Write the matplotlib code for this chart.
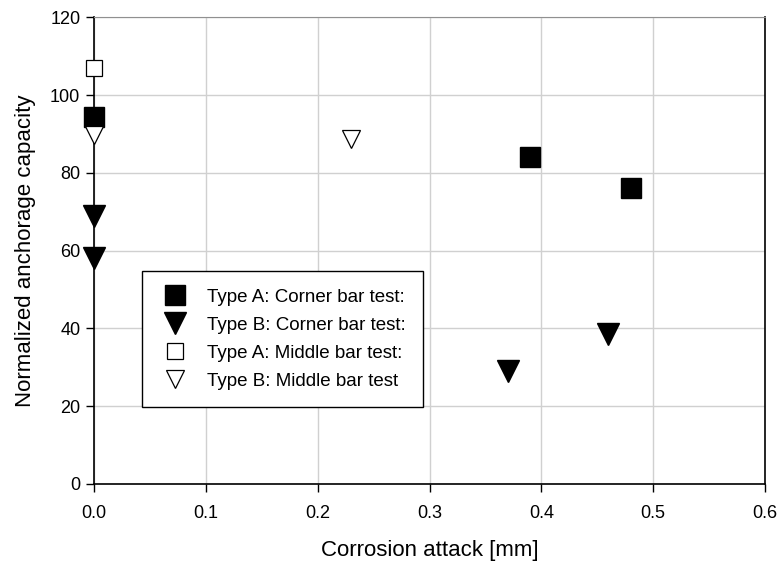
import matplotlib.pyplot as plt

plt.rcParams['font.family'] = ['Liberation Sans', 'DejaVu Sans']

# data
a_corner_x = [0.0, 0.39, 0.48]
a_corner_y = [94.5, 84.0, 76.0]
b_corner_x = [0.0, 0.0, 0.37, 0.46]
b_corner_y = [69.0, 58.0, 29.0, 38.5]
a_middle_x = [0.0]
a_middle_y = [107.0]
b_middle_x = [0.0, 0.23]
b_middle_y = [89.7, 88.8]

xticks = [0.0, 0.1, 0.2, 0.3, 0.4, 0.5, 0.6]
yticks = [0, 20, 40, 60, 80, 100, 120]

fig = plt.figure(figsize=(7.79, 5.62), dpi=100)
ax = fig.add_axes([0.121, 0.139, 0.861, 0.830])

ax.plot(a_corner_x, a_corner_y, 's', color='black', markersize=14.5,
        label='Type A: Corner bar test:', clip_on=False, zorder=5)
ax.plot(b_corner_x, b_corner_y, 'v', color='black', markersize=16,
        label='Type B: Corner bar test:', clip_on=False, zorder=5)
ax.plot(a_middle_x, a_middle_y, 's', markerfacecolor='white', markeredgecolor='black',
        markeredgewidth=0.9, markersize=12, label='Type A: Middle bar test:',
        clip_on=False, zorder=5)
ax.plot(b_middle_x, b_middle_y, 'v', markerfacecolor='white', markeredgecolor='black',
        markeredgewidth=0.9, markersize=12.5, label='Type B: Middle bar test',
        clip_on=False, zorder=5)

ax.set_xlim(0, 0.6)
ax.set_ylim(0, 120)
ax.set_xticks(xticks)
ax.set_xticklabels(['%.1f' % t for t in xticks])
ax.set_yticks(yticks)
ax.grid(True, color='#d0d0d0', linewidth=1.0)
ax.set_axisbelow(True)
ax.tick_params(direction='out', length=6, width=1, labelsize=13, colors='black', pad=4)
ax.tick_params(axis='x', pad=9)
ax.spines['top'].set_color('#909090')
for s in ['left', 'bottom', 'right']:
    ax.spines[s].set_linewidth(1.2)

ax.set_xlabel('Corrosion attack [mm]', fontsize=16, labelpad=13)
ax.set_ylabel('Normalized anchorage capacity', fontsize=16, labelpad=10)

leg = ax.legend(loc='upper left', bbox_to_anchor=(0.0715, 0.457), fontsize=13.5,
                frameon=True, fancybox=False, edgecolor='black', framealpha=1,
                borderpad=0.95, labelspacing=0.58, handletextpad=0.9,
                handlelength=1.6, borderaxespad=0)
leg.get_frame().set_linewidth(1.0)

fig.savefig('out.png', dpi=100)
